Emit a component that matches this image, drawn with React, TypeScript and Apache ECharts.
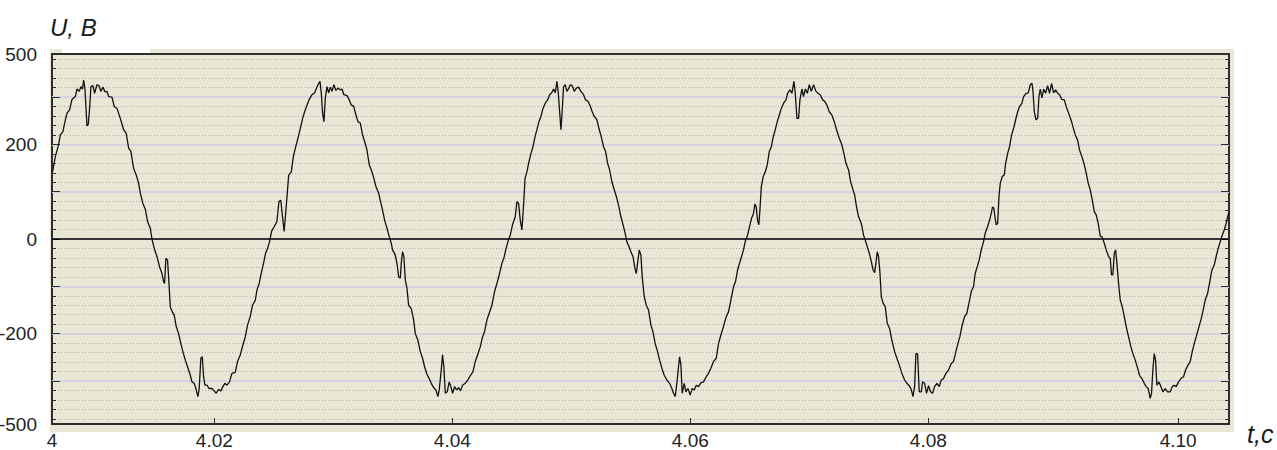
import React, { useEffect, useRef } from "react";
import * as echarts from "echarts";

// Voltage samples: [time in ms after 4 s, voltage in V]
const cycle1: [number, number][] = [
  [6.36,140],[6.44,146],[6.64,174],[6.92,200],[7.06,220],[7.28,227],[7.39,241],[7.62,266],[7.84,273],[8.04,295],[8.32,301],[8.46,317],[8.65,312],[8.79,322],[8.93,317],[9.02,336],[9.13,317],[9.30,239],[9.41,243],[9.52,276],[9.63,322],[9.80,324],[9.94,308],[10.14,326],[10.31,324],[10.47,312],[10.64,321],[10.81,311],[10.98,312],[11.12,301],[11.40,300],[11.59,280],[11.82,276],[12.10,255],[12.38,231],[12.60,223],[12.80,192],[12.99,185],[13.22,149],[13.44,135],[13.64,118],[13.78,97],[14.00,75],[14.20,63],[14.39,37],[14.62,23],[14.76,0],[14.95,-20],[15.18,-37],[15.40,-59],[15.60,-73],[15.74,-90],[15.82,-94],[15.93,-41],[16.07,-44],[16.19,-94],[16.30,-143],[16.47,-154],[16.63,-161],[16.80,-185],[17.00,-200],[17.19,-221],[17.36,-238],[17.56,-256],[17.75,-270],[17.98,-288],[18.12,-302],[18.31,-305],[18.45,-316],[18.62,-333],[18.73,-316],[18.87,-252],[18.99,-249],[19.10,-291],[19.21,-309],[19.38,-309],[19.57,-316],[19.80,-316],[19.99,-321],[20.16,-326],[20.36,-318],[20.55,-321],[20.72,-312],[20.89,-305],[21.06,-309],[21.28,-302],[21.48,-284],[21.76,-282],[21.95,-259],[22.18,-245],[22.40,-224],[22.60,-207],[22.79,-182],[23.02,-164],[23.21,-140],[23.44,-130],[23.58,-108],[23.77,-94],[23.94,-73],[24.14,-51],[24.31,-30],[24.47,-20],[24.64,-6],[24.81,16],[25.03,26],[25.26,37],[25.43,79],[25.59,82],[25.73,47],[25.87,16]
];
const cycle2: [number, number][] = [
  [26.11,90],[26.25,135],[26.47,142],[26.64,174],[26.81,192],[27.03,213],[27.23,234],[27.42,255],[27.59,269],[27.79,283],[27.98,295],[28.21,305],[28.43,309],[28.63,321],[28.77,329],[28.88,333],[28.99,308],[29.10,266],[29.21,248],[29.33,298],[29.47,322],[29.61,309],[29.75,321],[29.89,312],[30.05,326],[30.22,314],[30.39,319],[30.59,315],[30.73,317],[30.89,305],[31.15,303],[31.34,294],[31.51,283],[31.71,281],[31.90,262],[32.07,248],[32.27,245],[32.46,220],[32.63,206],[32.83,188],[33.02,157],[33.25,142],[33.41,128],[33.58,111],[33.81,97],[33.97,79],[34.14,61],[34.31,40],[34.51,23],[34.70,5],[34.87,-9],[34.98,-23],[35.21,-34],[35.37,-55],[35.49,-80],[35.63,-83],[35.71,-51],[35.82,-27],[35.93,-37],[36.05,-87],[36.19,-104],[36.33,-140],[36.55,-147],[36.75,-171],[36.89,-200],[37.11,-214],[37.31,-238],[37.50,-252],[37.67,-270],[37.87,-286],[38.06,-295],[38.23,-305],[38.43,-314],[38.62,-319],[38.79,-333],[38.90,-319],[39.07,-277],[39.18,-245],[39.29,-270],[39.41,-326],[39.57,-323],[39.74,-302],[39.88,-312],[40.02,-326],[40.19,-312],[40.36,-319],[40.53,-314],[40.69,-321],[40.86,-309],[41.09,-305],[41.31,-298],[41.53,-288],[41.73,-281],[41.93,-259],[42.12,-245],[42.35,-228],[42.54,-207],[42.71,-196],[42.91,-171],[43.10,-157],[43.33,-140],[43.55,-111],[43.75,-94],[43.94,-76],[44.17,-51],[44.33,-41],[44.50,-22],[44.67,-6],[44.87,8],[45.06,30],[45.29,47],[45.43,79],[45.57,75],[45.71,40],[45.85,19]
];
const cycle3: [number, number][] = [
  [45.99,72],[46.11,128],[46.27,142],[46.41,160],[46.61,181],[46.78,195],[46.95,216],[47.11,231],[47.28,248],[47.45,259],[47.62,276],[47.81,287],[48.01,294],[48.18,305],[48.35,309],[48.51,317],[48.65,309],[48.79,333],[48.91,308],[49.02,269],[49.13,231],[49.24,273],[49.35,322],[49.49,326],[49.63,312],[49.80,319],[49.91,326],[50.08,324],[50.25,312],[50.42,319],[50.61,321],[50.81,312],[51.03,305],[51.20,294],[51.40,291],[51.59,281],[51.76,269],[51.93,259],[52.15,252],[52.32,234],[52.52,216],[52.71,195],[52.88,185],[53.05,160],[53.22,146],[53.41,121],[53.61,104],[53.83,86],[54.00,68],[54.17,47],[54.39,26],[54.56,8],[54.67,-6],[54.84,-16],[55.01,-27],[55.18,-37],[55.35,-62],[55.46,-73],[55.57,-51],[55.71,-23],[55.85,-34],[55.96,-80],[56.13,-122],[56.30,-140],[56.49,-150],[56.69,-182],[56.86,-196],[57.05,-221],[57.25,-238],[57.42,-256],[57.61,-273],[57.81,-288],[58.03,-298],[58.26,-305],[58.45,-316],[58.59,-326],[58.73,-333],[58.87,-305],[59.01,-270],[59.10,-249],[59.21,-266],[59.32,-326],[59.49,-305],[59.63,-323],[59.80,-316],[59.99,-330],[60.16,-316],[60.33,-319],[60.50,-309],[60.69,-312],[60.89,-304],[61.11,-302],[61.34,-291],[61.53,-284],[61.73,-273],[61.95,-259],[62.18,-252],[62.37,-221],[62.57,-203],[62.79,-185],[63.02,-164],[63.21,-154],[63.41,-129],[63.63,-101],[63.80,-90],[63.97,-66],[64.14,-51],[64.31,-37],[64.47,-23],[64.61,-6],[64.81,8],[64.98,26],[65.15,44],[65.31,54],[65.43,74],[65.54,68],[65.65,40],[65.76,30]
];
const cycle4: [number, number][] = [
  [65.85,61],[65.97,111],[66.13,132],[66.30,142],[66.47,157],[66.64,185],[66.81,195],[66.97,216],[67.14,231],[67.31,248],[67.48,262],[67.65,276],[67.84,287],[68.04,294],[68.18,308],[68.37,315],[68.54,308],[68.71,333],[68.82,308],[68.96,255],[69.10,255],[69.21,294],[69.38,317],[69.52,301],[69.66,317],[69.83,308],[70.00,326],[70.17,312],[70.36,326],[70.56,312],[70.73,308],[70.92,305],[71.12,294],[71.29,291],[71.48,283],[71.68,269],[71.90,262],[72.10,248],[72.29,231],[72.52,213],[72.74,199],[72.91,181],[73.08,160],[73.30,146],[73.47,121],[73.64,107],[73.81,93],[73.97,68],[74.14,47],[74.37,33],[74.56,8],[74.70,-2],[74.87,-16],[75.04,-30],[75.21,-48],[75.37,-66],[75.49,-71],[75.60,-51],[75.71,-27],[75.82,-37],[75.93,-69],[76.05,-122],[76.21,-136],[76.38,-143],[76.55,-178],[76.75,-189],[76.94,-214],[77.17,-238],[77.36,-252],[77.56,-266],[77.78,-284],[78.01,-298],[78.20,-305],[78.40,-310],[78.57,-318],[78.71,-333],[78.85,-312],[78.96,-242],[79.10,-243],[79.24,-323],[79.41,-323],[79.52,-302],[79.69,-305],[79.85,-326],[80.02,-310],[80.19,-323],[80.36,-326],[80.53,-312],[80.72,-305],[80.92,-312],[81.09,-298],[81.28,-295],[81.48,-284],[81.70,-277],[81.93,-263],[82.12,-259],[82.32,-238],[82.49,-221],[82.65,-207],[82.82,-185],[83.05,-164],[83.24,-157],[83.44,-133],[83.61,-111],[83.80,-101],[83.94,-73],[84.11,-59],[84.28,-44],[84.45,-23],[84.64,-6],[84.78,12],[84.98,26],[85.15,40],[85.29,54],[85.40,68],[85.51,65]
];
const cycle5: [number, number][] = [
  [85.60,47],[85.71,30],[85.83,33],[85.94,90],[86.05,118],[86.22,132],[86.39,136],[86.50,160],[86.67,181],[86.83,195],[87.00,220],[87.17,234],[87.34,252],[87.51,269],[87.67,280],[87.87,287],[88.01,301],[88.23,308],[88.40,309],[88.57,326],[88.71,329],[88.79,315],[88.91,269],[89.05,252],[89.19,255],[89.30,301],[89.41,317],[89.55,298],[89.69,317],[89.86,308],[90.03,324],[90.19,308],[90.36,329],[90.53,309],[90.70,315],[90.87,308],[91.03,305],[91.23,295],[91.43,294],[91.59,280],[91.79,266],[91.99,252],[92.15,238],[92.35,220],[92.55,209],[92.71,188],[92.91,174],[93.11,157],[93.27,139],[93.44,118],[93.61,104],[93.78,82],[93.95,58],[94.11,51],[94.28,33],[94.45,6],[94.62,4],[94.79,-9],[94.95,-23],[95.15,-37],[95.29,-41],[95.40,-76],[95.51,-76],[95.63,-30],[95.74,-23],[95.85,-51],[95.99,-94],[96.13,-129],[96.30,-143],[96.47,-164],[96.63,-185],[96.83,-207],[97.03,-228],[97.19,-242],[97.39,-256],[97.59,-273],[97.75,-288],[97.95,-295],[98.15,-305],[98.31,-312],[98.48,-316],[98.65,-337],[98.76,-326],[98.87,-277],[98.99,-242],[99.10,-256],[99.21,-309],[99.38,-302],[99.55,-312],[99.71,-323],[99.91,-316],[100.11,-323],[100.33,-323],[100.50,-312],[100.67,-309],[100.83,-312],[101.03,-302],[101.23,-295],[101.45,-291],[101.62,-277],[101.84,-266],[102.01,-259],[102.18,-238],[102.35,-221],[102.51,-207],[102.71,-189],[102.91,-171],[103.07,-154],[103.27,-129],[103.47,-115],[103.63,-94],[103.83,-66],[104.03,-55],[104.19,-37],[104.36,-20],[104.53,-6],[104.70,8],[104.87,19],[105.03,33],[105.20,51],[105.27,58]
];

// Axis extents and tick labels as printed on the oscillogram
const X_MIN = 4.00636;
const X_MAX = 4.10527;
const xTickValues = [4.00636, 4.02, 4.04, 4.06, 4.08, 4.101];
const xTickLabels = ["4", "4.02", "4.04", "4.06", "4.08", "4.10"];

const Y_MIN = -391;
const Y_MAX = 391;
const yLabelValues = [391, 200, 0, -200, -391];
const yTickLabels = ["500", "200", "0", "-200", "-500"];
const yMajorTicks = [-300, -200, -100, 0, 100, 200, 300];
const yMinorTicks = [-380, -360, -340, -320, -280, -260, -240, -220, -180, -160, -140, -120, -80, -60, -40, -20, 20, 40, 60, 80, 120, 140, 160, 180, 220, 240, 260, 280, 320, 340, 360, 380];

const LABEL_FONT = "'Liberation Sans Narrow', 'Arial Narrow', 'Liberation Sans', sans-serif";
const BEIGE = "#e8e7d6";

const lookup = (values: number[], labels: string[]) => (v: number) => {
  let best = 0;
  for (let i = 1; i < values.length; i++) {
    if (Math.abs(values[i] - v) < Math.abs(values[best] - v)) best = i;
  }
  return labels[best];
};

export default function App() {
  const ref = useRef<HTMLDivElement>(null);

  useEffect(() => {
    if (!ref.current) return;
    const chart = echarts.init(ref.current, undefined, { renderer: "svg" });
    const samples = [...cycle1, ...cycle2, ...cycle3, ...cycle4, ...cycle5].map(
      ([ms, u]) => [4 + ms / 1000, u]
    );

    const yBase = {
      type: "value" as const,
      min: Y_MIN,
      max: Y_MAX,
      axisLine: { show: false },
    };

    chart.setOption({
      animation: false,
      backgroundColor: "#ffffff",
      grid: {
        left: 52,
        right: 48,
        top: 54,
        bottom: 26,
        show: true,
        backgroundColor: BEIGE,
        borderColor: "#2e2e2e",
        borderWidth: 2,
        containLabel: false,
        outerBoundsMode: "none",
      },
      graphic: [
        { type: "rect", z: -10, shape: { x: 50, y: 49, width: 1184, height: 383 }, style: { fill: BEIGE } },
        { type: "rect", z: -9, shape: { x: 62, y: 48, width: 88, height: 5 }, style: { fill: "#ffffff" } },
        {
          type: "text",
          x: 50,
          y: 27,
          style: {
            text: "U, B",
            font: "italic 24px 'Liberation Sans', Arial, sans-serif",
            fill: "#1a1a1a",
            verticalAlign: "middle",
          },
        },
        {
          type: "text",
          x: 1247,
          y: 434,
          style: {
            text: "t,c",
            font: "italic 25px 'Liberation Sans', Arial, sans-serif",
            fill: "#1a1a1a",
            verticalAlign: "middle",
          },
        },
      ],
      xAxis: {
        type: "value",
        min: X_MIN,
        max: X_MAX,
        axisLine: { show: false, onZero: false },
        axisTick: {
          show: true,
          inside: true,
          length: 6,
          customValues: xTickValues.slice(1),
          lineStyle: { color: "#2e2e2e", width: 1 },
        },
        axisLabel: {
          customValues: xTickValues,
          formatter: lookup(xTickValues, xTickLabels),
          margin: 7,
          fontSize: 19,
          color: "#222",
          fontFamily: LABEL_FONT,
        },
        splitLine: { show: false },
      },
      yAxis: [
        {
          ...yBase,
          position: "left",
          axisTick: {
            show: true,
            inside: true,
            length: 8,
            customValues: yMajorTicks,
            lineStyle: { color: "#2e2e2e", width: 1 },
          },
          axisLabel: {
            customValues: yLabelValues,
            formatter: lookup(yLabelValues, yTickLabels),
            margin: 15,
            fontSize: 19,
            color: "#222",
            fontFamily: LABEL_FONT,
          },
          splitLine: { show: true, lineStyle: { color: "#d5d3e0", width: 2 } },
        },
        {
          ...yBase,
          position: "left",
          axisTick: {
            show: true,
            inside: true,
            length: 4,
            customValues: yMinorTicks,
            lineStyle: { color: "#2e2e2e", width: 1 },
          },
          axisLabel: { show: false },
          splitLine: { show: true, lineStyle: { color: "#b0b0a4", width: 1, type: [1, 2] } },
        },
        {
          ...yBase,
          position: "right",
          axisTick: {
            show: true,
            inside: true,
            length: 8,
            customValues: yMajorTicks,
            lineStyle: { color: "#2e2e2e", width: 1 },
          },
          axisLabel: { show: false },
          splitLine: { show: false },
        },
        {
          ...yBase,
          position: "right",
          axisTick: {
            show: true,
            inside: true,
            length: 4,
            customValues: yMinorTicks,
            lineStyle: { color: "#2e2e2e", width: 1 },
          },
          axisLabel: { show: false },
          splitLine: { show: false },
        },
      ],
      series: [
        {
          name: "U",
          type: "line",
          xAxisIndex: 0,
          yAxisIndex: 0,
          data: samples,
          symbol: "none",
          showSymbol: false,
          lineStyle: { color: "#111111", width: 1.3 },
          z: 5,
          markLine: {
            silent: true,
            symbol: ["none", "none"],
            label: { show: false },
            lineStyle: { color: "#000000", width: 1.6, type: "solid" },
            data: [{ yAxis: 0 }],
          },
        },
      ],
    });

    return () => chart.dispose();
  }, []);

  return (
    <div
      ref={ref}
      style={{ position: "fixed", left: 0, top: 0, width: 1277, height: 450, background: "#fff" }}
    />
  );
}
